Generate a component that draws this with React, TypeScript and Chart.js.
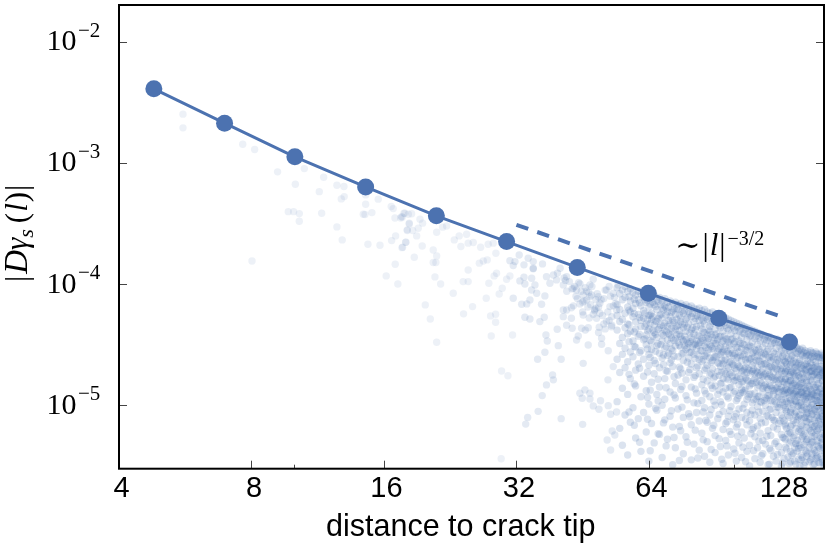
import React, { useEffect, useRef } from "react";
import { Chart, registerables } from "chart.js";

Chart.register(...registerables);

const BLUE = "#4C72B0";
const SERIF = '"Liberation Serif", "DejaVu Serif", serif';
const SANS = '"Liberation Sans", Arial, sans-serif';

const xLabelTicks = [4, 8, 16, 32, 64, 128];
const xMinorTicks = [10, 100];
const yTicks = [1e-2, 1e-3, 1e-4, 1e-5];
const yExponents = ["\u22122", "\u22123", "\u22124", "\u22125"];
const xTitle = "distance to crack tip";

const meanX = [4.8, 6.95, 10.04, 14.54, 21.05, 30.4, 44.0, 63.8, 92.3, 133.6];
const meanY = [4.07e-3, 2.12e-3, 1.12e-3, 6.32e-4, 3.65e-4, 2.24e-4, 1.37e-4, 8.4e-5, 5.22e-5, 3.33e-5];
const guideX = [32, 128];
const guideY = [3.08e-4, 5.38e-5];

// log2(distance), log10(|D gamma|) pairs for individual points
const sparseL = [2.483,2.483,2.934,3.024,3.197,3.399,3.331,3.545,3.645,3.698,3.512,3.678,3.7,3.862,3.957,3.862,3.278,3.318,3.361,3.361,3.53,3.645,3.685,3.844,3.857,3.909,3.879,3.97,3.004,4.017,4.085,4.105,4.055,4.07,4.083,4.126,4.138,4.151,4.184,4.191,4.176,4.088,4.058,4.164,4.136,
4.133,4.158,4.209,4.191,4.272,4.292,4.176,4.217,4.259,4.247,4.166,4.141,4.289,4.229,4.398,4.473,4.443,4.372,4.398,4.372,4.392,4.385,4.428,4.523,4.312,4.35,4.398,4.531,4.568,4.624,4.581,4.636,4.674,4.73,4.787,4.825,4.845,4.72,4.75,4.78,4.636,4.598,4.636,4.85,4.832,4.792,4.951,4.926,4.893,4.87,4.772,4.669,4.601,4.805,4.843,4.843,4.81,4.971,4.888,4.936,4.885];
const sparseM = [-2.599,-2.712,-2.847,-2.891,-3.075,-3.048,-3.177,-3.119,-3.185,-3.196,-3.238,-3.298,-3.279,-3.342,-3.3,-3.265,-3.403,-3.403,-3.419,-3.482,-3.416,-3.529,-3.636,-3.424,-3.427,-3.411,-3.672,-3.68,-3.81,-3.933,-3.837,-4.0,-3.361,-3.378,-3.455,-3.455,-3.449,-3.416,-3.424,-3.504,-3.559,-3.603,-3.642,-3.655,-3.7,
-3.444,-3.416,-3.421,-3.498,-3.465,-3.498,-3.553,-3.559,-3.54,-3.603,-3.655,-3.697,-3.686,-3.779,-3.573,-3.521,-3.531,-3.719,-3.768,-3.823,-3.823,-3.941,-4.0,-4.076,-4.172,-4.288,-4.48,-3.636,-3.603,-3.589,-3.691,-3.663,-3.658,-3.697,-3.672,-3.663,-3.746,-3.828,-3.81,-3.801,-3.884,-3.98,-3.98,-3.911,-3.933,-3.993,-3.933,-3.96,-4.035,-4.082,-4.117,-4.186,-4.246,-4.263,-4.249,-4.315,-4.428,-4.42,-4.717,-4.756,-5.441];

const midL = [4.951,5.021,4.989,5.057,4.976,5.089,5.127,5.127,5.127,5.197,5.026,5.064,5.057,5.115,5.14,5.115,5.153,5.215,5.102,5.04,5.078,5.19,4.976,5.064,5.102,5.177,5.21,5.308,5.379,5.223,5.233,5.316,5.215,5.16,5.338,5.504,5.273,5.279,5.227,5.195,5.164,5.085,5.07,5.338,5.5,5.479,5.517,5.497,5.555,5.555,5.635,5.58,5.623,5.693,5.711,5.756,5.723,5.685,5.743,5.711,5.691,5.731,5.643,5.643,5.693,5.542,5.467,5.454,5.421,5.379,5.354,5.415,5.354,5.415,5.479,5.504,5.542,5.492,5.625,5.718,5.605,5.63,5.68,5.279,5.33,5.379,5.227,5.253,5.303,5.354,5.429,5.454,5.504,5.555,5.555,5.618,5.68,5.731,5.63,5.706,5.756,5.53,5.567,5.731,5.768,5.36,5.4,5.44,5.47,5.49,5.52,5.545,5.58,5.6,5.66,5.7,5.74,5.46,5.5,5.54,5.59,5.65,
5.31,5.37,5.42,5.45,5.48,5.51,5.53,5.56,5.57,5.59,5.61,5.62,5.64,5.67,5.69,5.71,5.72,5.75,5.38,5.43,5.5,5.55,5.6,5.66,5.7,5.52,5.58,5.62,5.67,5.72];
const midM = [-3.807,-3.76,-3.815,-3.842,-3.848,-3.787,-3.815,-3.87,-3.875,-3.834,-3.974,-4.0,-3.944,-3.952,-4.007,-4.049,-4.076,-4.098,-4.131,-4.167,-4.164,-4.167,-4.117,-4.274,-4.288,-4.31,-4.274,-4.373,-4.34,-4.42,-4.47,-4.508,-4.563,-4.62,-4.62,-4.654,-4.75,-4.79,-4.832,-4.92,-5.05,-5.1,-5.155,-5.11,-5.157,-4.9,-4.873,-4.942,-4.9,-4.948,-4.962,-5.005,-5.033,-5.003,-5.074,-5.055,-5.212,-5.286,-5.245,-5.369,-4.79,-4.681,-4.447,-4.497,-4.55,-4.503,-4.428,-4.461,-4.365,-4.214,-4.214,-4.195,-4.269,-4.282,-4.164,-4.255,-4.36,-4.365,-4.357,-4.352,-4.282,-4.241,-4.31,-3.925,-3.87,-3.939,-3.939,-3.993,-3.966,-4.007,-4.035,-4.049,-4.09,-4.104,-4.007,-4.104,-4.049,-4.076,-4.158,-4.186,-4.214,-4.131,-4.09,-4.18,-4.007,-3.95,-3.98,-4.02,-3.99,-4.06,-4.03,-4.07,-3.96,-4.13,-4.12,-4.02,-4.11,-4.12,-4.15,-4.19,-4.22,-4.26,
-3.91,-3.97,-4.04,-4.1,-4.0,-4.14,-4.06,-4.17,-4.02,-4.21,-4.08,-4.19,-4.13,-4.05,-4.23,-4.1,-4.27,-4.16,-4.06,-4.18,-4.23,-4.28,-4.2,-4.33,-4.3,-4.38,-4.25,-4.4,-4.37,-4.34];

const denseA: [number, number[]][] = [
[5.76,[-4.03,-4.17,-4.26,-4.38,-4.62,-4.97]],
[5.78,[-4.08,-4.21,-4.31,-4.49,-4.73,-5.19]],
[5.8,[-4.05,-4.13,-4.29,-4.44,-4.58,-4.86,-5.33]],
[5.82,[-4.02,-4.11,-4.24,-4.36,-4.53,-4.69,-5.08]],
[5.84,[-4.06,-4.19,-4.33,-4.41,-4.64,-4.91,-5.41]],
[5.86,[-4.04,-4.14,-4.23,-4.39,-4.56,-4.78,-5.14]],
[5.88,[-4.07,-4.2,-4.27,-4.47,-4.6,-5.02]],
[5.9,[-4.09,-4.16,-4.31,-4.37,-4.52,-4.71,-4.84,-5.27]],
[5.92,[-4.06,-4.13,-4.25,-4.43,-4.66,-5.11]],
[5.94,[-4.08,-4.18,-4.3,-4.35,-4.55,-4.93,-5.38]],
[5.96,[-4.11,-4.22,-4.28,-4.46,-4.62,-4.76,-5.06]],
[5.98,[-4.07,-4.15,-4.33,-4.42,-4.5,-4.88,-5.22]],
[6.0,[-4.1,-4.19,-4.26,-4.37,-4.58,-4.67,-4.99,-5.46]],
[6.02,[-4.12,-4.24,-4.29,-4.48,-4.54,-4.81,-5.15]],
[6.04,[-4.09,-4.17,-4.34,-4.4,-4.63,-4.74,-5.31]],
[6.06,[-4.13,-4.21,-4.31,-4.44,-4.51,-4.91,-5.04]],
[6.08,[-4.11,-4.26,-4.36,-4.57,-4.69,-4.85,-5.24]],
[6.1,[-4.14,-4.2,-4.28,-4.41,-4.47,-4.61,-5.0,-5.43]],
[6.12,[-4.12,-4.18,-4.32,-4.38,-4.53,-4.78,-4.95,-5.12]],
[6.14,[-4.15,-4.23,-4.35,-4.46,-4.59,-4.72,-5.28]],
[6.16,[-4.14,-4.27,-4.33,-4.42,-4.49,-4.65,-4.89,-5.09]],
[6.18,[-4.16,-4.22,-4.3,-4.39,-4.55,-4.68,-5.18,-5.49]],
[6.2,[-4.15,-4.25,-4.37,-4.45,-4.51,-4.82,-4.94,-5.35]],
[6.22,[-4.17,-4.21,-4.34,-4.48,-4.6,-4.75,-5.03]],
[6.24,[-4.16,-4.28,-4.31,-4.43,-4.52,-4.7,-4.87,-5.21]],
[6.26,[-4.18,-4.24,-4.36,-4.47,-4.57,-4.63,-5.1,-5.4]],
[6.28,[-4.17,-4.29,-4.39,-4.46,-4.54,-4.79,-4.92,-5.26]],
[6.3,[-4.19,-4.23,-4.33,-4.49,-4.61,-4.73,-5.07]],
[6.32,[-4.18,-4.27,-4.38,-4.44,-4.56,-4.66,-4.85,-5.16,-5.45]],
[6.34,[-4.2,-4.31,-4.41,-4.5,-4.58,-4.77,-4.98,-5.32]],
[6.36,[-4.21,-4.26,-4.35,-4.47,-4.53,-4.69,-4.9,-5.06]],
[6.38,[-4.2,-4.3,-4.43,-4.49,-4.62,-4.74,-5.13,-5.37]],
[6.4,[-4.22,-4.28,-4.37,-4.45,-4.55,-4.64,-4.83,-4.96,-5.23]],
];
const denseB: [number, number[]][] = [
[6.42,[-4.21,-4.33,-4.4,-4.51,-4.59,-4.71,-4.88,-5.02,-5.42]],
[6.44,[-4.23,-4.29,-4.42,-4.48,-4.57,-4.67,-4.8,-5.14,-5.3]],
[6.46,[-4.24,-4.35,-4.39,-4.5,-4.61,-4.75,-4.93,-5.08,-5.47]],
[6.48,[-4.23,-4.31,-4.44,-4.53,-4.63,-4.7,-4.86,-5.19]],
[6.5,[-4.25,-4.37,-4.42,-4.49,-4.6,-4.76,-4.84,-5.0,-5.25,-5.39]],
[6.52,[-4.26,-4.32,-4.46,-4.55,-4.65,-4.72,-4.91,-5.11]],
[6.54,[-4.27,-4.36,-4.43,-4.52,-4.58,-4.68,-4.82,-4.97,-5.34]],
[6.56,[-4.26,-4.39,-4.47,-4.56,-4.66,-4.78,-4.89,-5.05,-5.2,-5.48]],
[6.58,[-4.28,-4.34,-4.45,-4.51,-4.62,-4.74,-4.86,-5.15,-5.29]],
[6.6,[-4.29,-4.38,-4.48,-4.57,-4.69,-4.79,-4.94,-5.09,-5.41]],
[6.62,[-4.3,-4.41,-4.46,-4.54,-4.64,-4.73,-4.85,-5.01,-5.24]],
[6.64,[-4.31,-4.36,-4.49,-4.59,-4.67,-4.8,-4.9,-5.12,-5.36]],
[6.66,[-4.32,-4.43,-4.52,-4.61,-4.71,-4.77,-4.96,-5.07,-5.18,-5.46]],
[6.68,[-4.33,-4.39,-4.47,-4.56,-4.68,-4.83,-4.92,-5.03,-5.31]],
[6.7,[-4.34,-4.44,-4.53,-4.63,-4.72,-4.81,-4.87,-5.1,-5.22,-5.43]],
[6.72,[-4.35,-4.41,-4.5,-4.58,-4.7,-4.75,-4.88,-4.99,-5.27]],
[6.74,[-4.36,-4.46,-4.55,-4.65,-4.73,-4.79,-4.95,-5.06,-5.16,-5.38]],
[6.76,[-4.37,-4.43,-4.51,-4.62,-4.71,-4.84,-4.91,-5.13,-5.33,-5.5]],
[6.78,[-4.38,-4.48,-4.57,-4.67,-4.72,-4.82,-4.98,-5.04,-5.2]],
[6.8,[-4.39,-4.45,-4.54,-4.6,-4.74,-4.78,-4.9,-5.08,-5.26,-5.44]],
[6.82,[-4.4,-4.5,-4.59,-4.69,-4.73,-4.85,-4.93,-5.01,-5.17,-5.35]],
[6.84,[-4.41,-4.47,-4.56,-4.64,-4.75,-4.8,-4.97,-5.11,-5.23,-5.47]],
[6.86,[-4.42,-4.52,-4.61,-4.7,-4.76,-4.86,-4.89,-5.05,-5.29,-5.4]],
[6.88,[-4.43,-4.49,-4.58,-4.66,-4.74,-4.83,-4.94,-5.0,-5.14,-5.32]],
[6.9,[-4.44,-4.54,-4.6,-4.71,-4.78,-4.87,-4.92,-5.09,-5.21,-5.49]],
[6.92,[-4.45,-4.51,-4.63,-4.68,-4.76,-4.84,-4.96,-5.03,-5.25,-5.37]],
[6.94,[-4.46,-4.56,-4.62,-4.73,-4.79,-4.88,-4.91,-5.12,-5.18,-5.42]],
[6.96,[-4.47,-4.53,-4.65,-4.7,-4.8,-4.86,-4.99,-5.06,-5.3,-5.46]],
[6.98,[-4.48,-4.58,-4.64,-4.75,-4.82,-4.89,-4.93,-5.02,-5.15,-5.34]],
[7.0,[-4.49,-4.55,-4.67,-4.72,-4.78,-4.85,-4.95,-5.08,-5.24,-5.39,-5.5]],
];
const denseC: [number, number[]][] = [
[7.02,[-4.5,-4.57,-4.63,-4.74,-4.81,-4.88,-4.91,-5.0,-5.13,-5.27,-5.44]],
[7.04,[-4.49,-4.6,-4.66,-4.7,-4.83,-4.87,-4.97,-5.05,-5.19,-5.36]],
[7.06,[-4.51,-4.55,-4.68,-4.76,-4.8,-4.89,-4.94,-5.1,-5.22,-5.31,-5.48]],
[7.08,[-4.52,-4.59,-4.65,-4.72,-4.84,-4.86,-4.92,-5.03,-5.16,-5.41]],
[7.1,[-4.51,-4.61,-4.69,-4.75,-4.82,-4.9,-4.96,-5.07,-5.25,-5.35,-5.46]],
[7.12,[-4.53,-4.57,-4.67,-4.73,-4.85,-4.88,-4.93,-5.01,-5.12,-5.29,-5.38]],
[7.14,[-4.54,-4.62,-4.64,-4.77,-4.83,-4.91,-4.98,-5.08,-5.2,-5.33,-5.5]],
[7.16,[-4.53,-4.59,-4.7,-4.74,-4.81,-4.89,-4.94,-5.04,-5.17,-5.26,-5.43]],
[7.18,[-4.55,-4.6,-4.66,-4.71,-4.86,-4.92,-4.95,-5.1,-5.23,-5.37,-5.47]],
[7.2,[-4.56,-4.63,-4.68,-4.76,-4.84,-4.9,-4.97,-5.06,-5.14,-5.28,-5.4]],
[7.22,[-4.55,-4.61,-4.65,-4.72,-4.79,-4.87,-4.93,-5.02,-5.11,-5.21,-5.32,-5.45]],
[7.24,[-4.57,-4.62,-4.69,-4.75,-4.83,-4.91,-4.99,-5.07,-5.18,-5.3,-5.36,-5.49]],
[7.26,[-4.56,-4.64,-4.67,-4.73,-4.85,-4.92,-4.96,-5.05,-5.15,-5.24,-5.39,-5.44]],
[7.28,[-4.58,-4.61,-4.7,-4.77,-4.82,-4.89,-4.98,-5.03,-5.13,-5.19,-5.34,-5.47]],
[7.3,[-4.57,-4.63,-4.68,-4.74,-4.86,-4.93,-4.97,-5.09,-5.16,-5.27,-5.31,-5.42]],
[7.32,[-4.59,-4.65,-4.71,-4.76,-4.84,-4.9,-5.0,-5.04,-5.12,-5.22,-5.35,-5.5]],
[7.34,[-4.6,-4.66,-4.69,-4.78,-4.81,-4.94,-4.98,-5.06,-5.14,-5.25,-5.38,-5.46]],
[7.36,[-4.59,-4.64,-4.72,-4.75,-4.87,-4.91,-5.01,-5.08,-5.2,-5.29,-5.33,-5.48]],
];
const denseD: [number, number[]][] = [
[5.97,[-4.13,-4.24,-4.35,-4.45]],[6.03,[-4.15,-4.27,-4.38,-4.43]],[6.09,[-4.17,-4.25,-4.34,-4.5]],[6.15,[-4.19,-4.3,-4.41,-4.57]],
[6.21,[-4.2,-4.29,-4.35,-4.42]],[6.27,[-4.22,-4.33,-4.43,-4.51]],[6.33,[-4.24,-4.36,-4.46,-4.52]],[6.39,[-4.25,-4.34,-4.48,-4.55]],
[6.45,[-4.27,-4.38,-4.45,-4.54]],[6.51,[-4.3,-4.41,-4.49,-4.6]],[6.57,[-4.32,-4.43,-4.54,-4.63,-4.72]],[6.63,[-4.35,-4.45,-4.57,-4.66,-4.76]],
[6.69,[-4.38,-4.49,-4.59,-4.69,-4.78,-4.9]],[6.75,[-4.41,-4.52,-4.61,-4.7,-4.8,-4.93]],[6.81,[-4.43,-4.55,-4.63,-4.72,-4.81,-4.95]],
[6.87,[-4.46,-4.57,-4.66,-4.75,-4.84,-4.96]],[6.93,[-4.49,-4.6,-4.69,-4.77,-4.86,-4.97,-5.1]],[6.99,[-4.52,-4.61,-4.7,-4.79,-4.87,-4.99,-5.13]],
[7.03,[-4.54,-4.64,-4.72,-4.78,-4.9,-5.02,-5.17,-5.28]],[7.07,[-4.56,-4.62,-4.73,-4.8,-4.88,-4.98,-5.06,-5.23,-5.38]],[7.11,[-4.57,-4.65,-4.71,-4.79,-4.91,-4.97,-5.09,-5.19,-5.32]],
[7.15,[-4.58,-4.67,-4.73,-4.82,-4.89,-5.0,-5.11,-5.22,-5.35,-5.45]],[7.19,[-4.59,-4.66,-4.74,-4.81,-4.93,-5.03,-5.08,-5.18,-5.3,-5.42]],[7.23,[-4.6,-4.67,-4.72,-4.8,-4.9,-4.95,-5.05,-5.16,-5.26,-5.4]],
[7.27,[-4.6,-4.68,-4.75,-4.83,-4.88,-4.96,-5.01,-5.1,-5.21,-5.33,-5.43]],[7.31,[-4.61,-4.7,-4.73,-4.8,-4.91,-4.99,-5.07,-5.18,-5.28,-5.37,-5.47]],[7.35,[-4.62,-4.68,-4.74,-4.82,-4.89,-4.97,-5.03,-5.11,-5.23,-5.34,-5.41]],
];
const denseE: [number, number[]][] = [
[5.85,[-4.105,-4.215,-4.335,-4.475,-4.745,-5.055]],[5.89,[-4.125,-4.245,-4.395,-4.515,-4.825,-5.165]],[5.93,[-4.155,-4.275,-4.415,-4.565,-4.695,-5.305]],
[5.99,[-4.135,-4.295,-4.385,-4.535,-4.725,-4.935,-5.115]],[6.01,[-4.165,-4.255,-4.325,-4.465,-4.605,-4.875,-5.375]],[6.05,[-4.185,-4.305,-4.415,-4.555,-4.655,-5.025]],
[6.07,[-4.145,-4.285,-4.375,-4.495,-4.785,-4.965,-5.235]],[6.11,[-4.215,-4.345,-4.425,-4.585,-4.665,-5.145]],[6.13,[-4.195,-4.255,-4.395,-4.515,-4.715,-4.855,-5.335]],
[6.17,[-4.235,-4.365,-4.445,-4.535,-4.625,-5.045]],[6.19,[-4.205,-4.315,-4.465,-4.595,-4.765,-4.915,-5.265]],[6.23,[-4.255,-4.385,-4.415,-4.505,-4.685,-5.175,-5.455]],
[6.25,[-4.225,-4.335,-4.455,-4.575,-4.735,-4.845,-5.015]],[6.29,[-4.275,-4.355,-4.485,-4.525,-4.645,-4.955,-5.305]],[6.31,[-4.245,-4.405,-4.475,-4.565,-4.705,-5.095]],
[6.35,[-4.285,-4.375,-4.495,-4.615,-4.755,-4.865,-5.205]],[6.37,[-4.265,-4.425,-4.505,-4.585,-4.675,-4.985,-5.435]],[6.41,[-4.305,-4.395,-4.465,-4.625,-4.785,-5.055,-5.285]],
[6.43,[-4.275,-4.445,-4.525,-4.595,-4.695,-4.905,-5.125]],[6.47,[-4.325,-4.415,-4.515,-4.645,-4.735,-4.835,-5.035,-5.365]],[6.49,[-4.295,-4.465,-4.545,-4.605,-4.775,-4.965,-5.165]],
[6.53,[-4.345,-4.435,-4.535,-4.655,-4.755,-4.875,-5.075,-5.275]],[6.55,[-4.325,-4.485,-4.565,-4.625,-4.725,-4.815,-4.995,-5.445]],[6.59,[-4.365,-4.455,-4.555,-4.675,-4.775,-4.925,-5.135,-5.335]],
[6.61,[-4.335,-4.505,-4.585,-4.645,-4.745,-4.855,-5.045,-5.215]],[6.65,[-4.385,-4.475,-4.575,-4.695,-4.795,-4.885,-5.095,-5.395]],[6.67,[-4.355,-4.525,-4.605,-4.665,-4.765,-4.945,-5.155,-5.255]],
[6.71,[-4.405,-4.495,-4.595,-4.715,-4.805,-4.895,-5.025,-5.345]],[6.73,[-4.375,-4.545,-4.625,-4.685,-4.775,-4.865,-5.115,-5.465]],[6.77,[-4.425,-4.515,-4.615,-4.735,-4.825,-4.905,-5.075,-5.235]],
[6.79,[-4.395,-4.565,-4.645,-4.705,-4.795,-4.955,-5.185,-5.375]],[6.83,[-4.445,-4.535,-4.635,-4.755,-4.835,-4.925,-5.055,-5.295]],[6.85,[-4.415,-4.585,-4.665,-4.725,-4.815,-4.975,-5.145,-5.415]],
[6.89,[-4.465,-4.555,-4.655,-4.765,-4.855,-4.945,-5.085,-5.255]],[6.91,[-4.435,-4.605,-4.685,-4.745,-4.835,-4.915,-5.035,-5.355,-5.485]],[6.95,[-4.485,-4.575,-4.675,-4.785,-4.875,-4.965,-5.125,-5.315]],
[6.97,[-4.455,-4.625,-4.705,-4.765,-4.855,-4.935,-5.015,-5.195,-5.405]],[7.01,[-4.505,-4.595,-4.695,-4.805,-4.885,-4.975,-5.105,-5.265,-5.475]],[7.03,[-4.475,-4.645,-4.725,-4.785,-4.865,-4.945,-5.035,-5.155,-5.345]],
[7.05,[-4.525,-4.615,-4.715,-4.815,-4.895,-4.985,-5.085,-5.235,-5.425]],[7.07,[-4.495,-4.665,-4.745,-4.795,-4.875,-4.955,-5.045,-5.175,-5.295,-5.465]],[7.09,[-4.535,-4.635,-4.735,-4.825,-4.905,-4.995,-5.125,-5.265,-5.395]],
[7.11,[-4.515,-4.685,-4.765,-4.835,-4.885,-4.965,-5.055,-5.145,-5.315,-5.485]],[7.13,[-4.555,-4.655,-4.755,-4.845,-4.915,-5.005,-5.095,-5.215,-5.355,-5.445]],[7.15,[-4.545,-4.695,-4.785,-4.855,-4.895,-4.975,-5.035,-5.165,-5.275,-5.415]],
[7.17,[-4.565,-4.675,-4.775,-4.865,-4.925,-5.015,-5.105,-5.245,-5.325,-5.495]],[7.19,[-4.575,-4.705,-4.795,-4.875,-4.905,-4.985,-5.065,-5.135,-5.285,-5.385]],[7.21,[-4.585,-4.685,-4.725,-4.845,-4.935,-5.025,-5.115,-5.195,-5.345,-5.465]],
[7.23,[-4.565,-4.715,-4.765,-4.885,-4.915,-4.995,-5.075,-5.225,-5.305,-5.435]],[7.25,[-4.595,-4.695,-4.745,-4.855,-4.945,-5.035,-5.125,-5.175,-5.255,-5.375,-5.485]],[7.27,[-4.575,-4.725,-4.785,-4.895,-4.925,-5.005,-5.085,-5.205,-5.295,-5.415]],
[7.29,[-4.605,-4.705,-4.755,-4.865,-4.955,-5.045,-5.105,-5.155,-5.265,-5.355,-5.475]],[7.31,[-4.585,-4.735,-4.795,-4.905,-4.935,-5.015,-5.095,-5.235,-5.325,-5.445]],[7.33,[-4.615,-4.715,-4.775,-4.875,-4.965,-5.055,-5.135,-5.185,-5.245,-5.395,-5.495]],
[7.35,[-4.595,-4.745,-4.805,-4.915,-4.945,-5.025,-5.075,-5.215,-5.305,-5.365,-5.455]],
];

const toPoint = (l: number, m: number) => ({ x: Math.pow(2, l), y: Math.pow(10, m) });
const sparsePoints = sparseL.map((l, i) => toPoint(l, sparseM[i]));
const midPoints = midL.map((l, i) => toPoint(l, midM[i]));
const columnPoints = (cols: [number, number[]][]) => cols.flatMap(([l, ms]) => ms.map((m) => toPoint(l, m)));
const densePoints = [denseA, denseB, denseC, denseD, denseE].flatMap(columnPoints);

type Run = { t: string; f: string; dy?: number; gap?: number };
const yLabelRuns: Run[] = [
  { t: "|", f: `31px ${SERIF}`, gap: 2 },
  { t: "D", f: `italic 33px ${SERIF}`, gap: 0 },
  { t: "\u03b3", f: `italic 31px ${SERIF}` },
  { t: "s", f: `italic 22px ${SERIF}`, dy: 6, gap: 6 },
  { t: "(", f: `31px ${SERIF}`, gap: 1 },
  { t: "l", f: `italic 31px ${SERIF}`, gap: 1 },
  { t: ")", f: `31px ${SERIF}`, gap: 1 },
  { t: "|", f: `31px ${SERIF}` },
];
const noteRuns: Run[] = [
  { t: "\u223c", f: `30px ${SERIF}`, gap: 2 },
  { t: "|", f: `31px ${SERIF}`, gap: 1 },
  { t: "l", f: `italic 31px ${SERIF}`, gap: 1 },
  { t: "|", f: `31px ${SERIF}`, gap: 2 },
  { t: "\u22123/2", f: `20px ${SERIF}`, dy: -10 },
];
const noteX = 73.5;
const noteY = 1.72e-4;

function drawRuns(ctx: CanvasRenderingContext2D, x: number, y: number, runs: Run[]) {
  let cx = x;
  for (const r of runs) {
    ctx.font = r.f;
    ctx.fillText(r.t, cx, y + (r.dy ?? 0));
    cx += ctx.measureText(r.t).width + (r.gap ?? 0);
  }
}

const decorations = {
  id: "decorations",
  afterDraw(chart: any) {
    const { ctx, chartArea: a, scales } = chart;
    const sx = scales.x;
    const sy = scales.y;
    ctx.save();
    ctx.strokeStyle = "#444";
    ctx.lineWidth = 1;
    ctx.beginPath();
    for (const v of xLabelTicks) {
      const p = Math.round(sx.getPixelForValue(v)) + 0.5;
      ctx.moveTo(p, a.bottom);
      ctx.lineTo(p, a.bottom - 8);
    }
    for (const v of xMinorTicks) {
      const p = Math.round(sx.getPixelForValue(v)) + 0.5;
      ctx.moveTo(p, a.bottom);
      ctx.lineTo(p, a.bottom - 4);
    }
    for (const v of yTicks) {
      const p = Math.round(sy.getPixelForValue(v)) + 0.5;
      ctx.moveTo(a.left, p);
      ctx.lineTo(a.left + 8, p);
      ctx.moveTo(a.right, p);
      ctx.lineTo(a.right - 8, p);
    }
    ctx.stroke();
    ctx.strokeStyle = "#000";
    ctx.lineWidth = 2;
    ctx.strokeRect(a.left, a.top, a.right - a.left, a.bottom - a.top);
    ctx.fillStyle = "#000";
    ctx.textBaseline = "alphabetic";
    ctx.textAlign = "left";
    yTicks.forEach((v, i) => {
      const p = sy.getPixelForValue(v);
      ctx.font = `30px ${SERIF}`;
      ctx.fillText("10", 46.5, p + 8.5);
      ctx.font = `21px ${SERIF}`;
      ctx.fillText(yExponents[i], 78, p - 5);
    });
    ctx.font = `30.5px ${SANS}`;
    ctx.fillText(xTitle, 326, 536);
    ctx.save();
    ctx.translate(27, 282);
    ctx.rotate(-Math.PI / 2);
    drawRuns(ctx, 0, 0, yLabelRuns);
    ctx.restore();
    drawRuns(ctx, sx.getPixelForValue(noteX), sy.getPixelForValue(noteY), noteRuns);
    ctx.restore();
  },
};

export default function App() {
  const ref = useRef<HTMLCanvasElement>(null);
  useEffect(() => {
    const chart = new Chart(ref.current!, {
      type: "scatter",
      data: {
        datasets: [
          { data: sparsePoints, backgroundColor: "rgba(76,114,176,0.1)", borderWidth: 0, pointRadius: 3.7, order: 6 },
          { data: midPoints, backgroundColor: "rgba(76,114,176,0.15)", borderWidth: 0, pointRadius: 3.7, order: 5 },
          { data: densePoints, backgroundColor: "rgba(76,114,176,0.2)", borderWidth: 0, pointRadius: 3.7, order: 4 },
          {
            data: meanX.map((x, i) => ({ x, y: meanY[i] })),
            showLine: true,
            borderColor: BLUE,
            borderWidth: 3,
            backgroundColor: BLUE,
            pointRadius: 8.5,
            pointBorderWidth: 0,
            order: 2,
          },
          {
            data: guideX.map((x, i) => ({ x, y: guideY[i] })),
            showLine: true,
            borderColor: BLUE,
            borderWidth: 4,
            borderDash: [12.5, 9.5],
            pointRadius: 0,
            order: 1,
          },
        ],
      },
      options: {
        responsive: false,
        animation: false,
        events: [],
        layout: { autoPadding: false, padding: { top: 5, right: 6, left: 0, bottom: 0 } },
        plugins: { legend: { display: false }, tooltip: { enabled: false } },
        scales: {
          x: {
            type: "logarithmic",
            min: 4,
            max: 160,
            grid: { display: false, drawTicks: false },
            border: { display: false },
            afterBuildTicks: (s: any) => {
              s.ticks = xLabelTicks.map((value) => ({ value }));
            },
            afterFit: (s: any) => {
              s.height = 85.3;
            },
            ticks: {
              autoSkip: false,
              maxRotation: 0,
              padding: 3,
              labelOffset: 2.5,
              color: "#000",
              font: { family: "Liberation Sans", size: 29 },
              callback: (v: any) => String(v),
            },
          },
          y: {
            type: "logarithmic",
            min: 3e-6,
            max: 0.02,
            grid: { display: false },
            border: { display: false },
            afterFit: (s: any) => {
              s.width = 119;
            },
            ticks: { display: false },
          },
        },
      },
      plugins: [decorations],
    } as any);
    return () => chart.destroy();
  }, []);
  return (
    <div style={{ position: "fixed", left: 0, top: 0, width: 830, height: 554, background: "#fff" }}>
      <canvas ref={ref} width={830} height={554} style={{ display: "block" }} />
    </div>
  );
}
